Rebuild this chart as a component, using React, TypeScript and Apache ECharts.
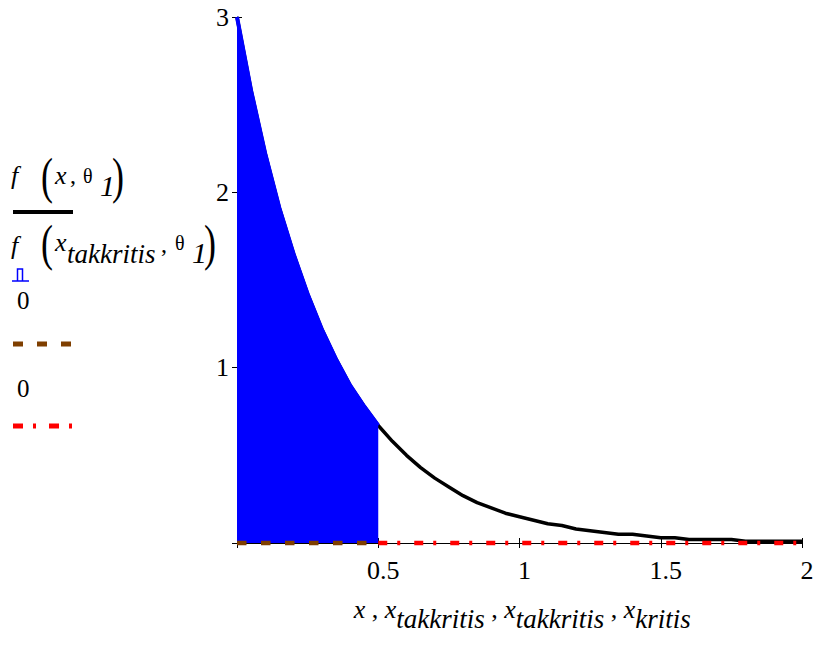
import React, { useEffect, useRef } from 'react';
import * as echarts from 'echarts';

// x values and f(x, θ1)
const xValues = [
  0, 0.05, 0.1, 0.15, 0.2, 0.25, 0.3, 0.35, 0.4, 0.45, 0.5,
  0.55, 0.6, 0.65, 0.7, 0.75, 0.8, 0.85, 0.9, 0.95, 1.0,
  1.05, 1.1, 1.15, 1.2, 1.25, 1.3, 1.35, 1.4, 1.45, 1.5,
  1.55, 1.6, 1.65, 1.7, 1.75, 1.8, 1.85, 1.9, 1.95, 2.0,
];
const fValues = [
  3.0, 2.58, 2.22, 1.91, 1.65, 1.42, 1.22, 1.05, 0.9, 0.78, 0.67,
  0.58, 0.5, 0.43, 0.37, 0.32, 0.27, 0.23, 0.2, 0.17, 0.15,
  0.13, 0.11, 0.1, 0.08, 0.07, 0.06, 0.05, 0.05, 0.04, 0.03,
  0.03, 0.02, 0.02, 0.02, 0.02, 0.01, 0.01, 0.01, 0.01, 0.01,
];
const xTakkritis = 0.5; // shaded region upper limit
const xStart = 0;
const xEnd = 2;
const zeroLevel = 0;
const xTickLabels = ['0.5', '1', '1.5', '2'];
const yTickLabels = ['1', '2', '3'];

const SERIF = 'Liberation Serif';

function txt(x: number, y: number, text: string, size: number, italic = false, extra: any = {}) {
  return {
    type: 'text',
    x,
    y,
    ...extra,
    style: {
      text,
      x: 0,
      y: 0,
      fontSize: size,
      fontFamily: SERIF,
      fontStyle: italic ? 'italic' : 'normal',
      fill: '#000',
      align: 'left',
      verticalAlign: 'middle',
    },
  };
}

export default function App() {
  const ref = useRef<HTMLDivElement>(null);
  useEffect(() => {
    const chart = echarts.init(ref.current!, null, { renderer: 'svg' });
    const curve = xValues.map((x, i) => [x, fValues[i]]);
    const shaded = curve.filter((p) => p[0] <= xTakkritis + 1e-9);

    const labelFmt = (list: string[]) => (v: number) => {
      const s = String(v);
      return list.indexOf(s) >= 0 ? s : '';
    };

    const commonX = { type: 'value', min: xStart, max: xEnd, interval: 0.5, splitLine: { show: false } };
    const commonY = { type: 'value', min: 0, max: 3, interval: 1, splitLine: { show: false } };

    const option: any = {
      animation: false,
      backgroundColor: '#fff',
      textStyle: { fontFamily: SERIF },
      grid: { left: 237, right: 16, top: 17, bottom: 102, containLabel: false },
      xAxis: [
        {
          ...commonX,
          axisLine: { show: true, onZero: false, lineStyle: { color: '#000', width: 1 } },
          axisTick: { show: true, inside: false, length: 5, lineStyle: { color: '#000', width: 1 } },
          axisLabel: {
            formatter: labelFmt(xTickLabels),
            fontSize: 26,
            fontFamily: SERIF,
            color: '#000',
            margin: 14,
            padding: [0, 0, 0, 10],
          },
        },
        {
          ...commonX,
          position: 'bottom',
          axisLine: { show: false, onZero: false },
          axisTick: { show: true, inside: true, length: 5, lineStyle: { color: '#000', width: 1 } },
          axisLabel: { show: false },
        },
      ],
      yAxis: [
        {
          ...commonY,
          axisLine: { show: true, onZero: false, lineStyle: { color: '#000', width: 1 } },
          axisTick: { show: true, inside: false, length: 5, lineStyle: { color: '#000', width: 1 } },
          axisLabel: {
            formatter: labelFmt(yTickLabels),
            fontSize: 26,
            fontFamily: SERIF,
            color: '#000',
            margin: 8,
          },
        },
        {
          ...commonY,
          position: 'left',
          axisLine: { show: false, onZero: false },
          axisTick: { show: true, inside: true, length: 5, lineStyle: { color: '#000', width: 1 } },
          axisLabel: { show: false },
        },
      ],
      series: [
        {
          type: 'line',
          data: curve,
          showSymbol: false,
          clip: false,
          z: 2,
          lineStyle: { color: '#000', width: 3.5 },
        },
        {
          type: 'line',
          data: shaded,
          showSymbol: false,
          clip: false,
          z: 3,
          lineStyle: { color: '#0000ff', width: 4 },
          areaStyle: { color: '#0000ff', opacity: 1 },
        },
        {
          type: 'line',
          data: [[xStart, zeroLevel], [xTakkritis, zeroLevel]],
          showSymbol: false,
          clip: false,
          z: 4,
          lineStyle: { color: '#7f3f00', width: 4.5, type: [9.5, 14.5], cap: 'butt' },
        },
        {
          type: 'line',
          data: [[xTakkritis, zeroLevel], [xEnd, zeroLevel]],
          showSymbol: false,
          clip: false,
          z: 4,
          lineStyle: { color: '#ff0000', width: 4.5, type: [9, 10, 3, 14], cap: 'butt' },
        },
      ],
      graphic: [
        // legend entry 1: f (x, θ1)
        txt(11, 175, 'f', 26, true),
        txt(41, 176, '(', 36, false, { scaleY: 1.4 }),
        txt(55, 175, 'x', 26, true),
        txt(70, 175, ',', 24),
        txt(83, 176, 'θ', 20),
        txt(100, 185, '1', 30, true),
        txt(112, 176, ')', 36, false, { scaleY: 1.4 }),
        {
          type: 'line',
          shape: { x1: 13, y1: 212, x2: 73, y2: 212 },
          style: { stroke: '#000', lineWidth: 4 },
        },
        // legend entry 2: f (x_takkritis, θ1)
        txt(11, 245, 'f', 26, true),
        txt(41, 243, '(', 36, false, { scaleY: 1.4 }),
        txt(55, 242, 'x', 26, true),
        txt(67, 254, 'takkritis', 27, true),
        txt(161, 244, ',', 24),
        txt(175, 243, 'θ', 20),
        txt(192, 252, '1', 30, true),
        txt(204, 243, ')', 36, false, { scaleY: 1.4 }),
        {
          type: 'polyline',
          shape: { points: [[12, 281], [29, 281]] },
          style: { stroke: '#0000ff', lineWidth: 1.5, fill: null },
        },
        {
          type: 'polyline',
          shape: { points: [[17.5, 281], [17.5, 269], [22.5, 269], [22.5, 281]] },
          style: { stroke: '#0000ff', lineWidth: 1.5, fill: null },
        },
        // legend entry 3: 0 (brown dashed)
        txt(17, 300, '0', 25),
        {
          type: 'line',
          shape: { x1: 13, y1: 344, x2: 73, y2: 344 },
          style: { stroke: '#7f3f00', lineWidth: 5, lineDash: [10, 14] },
        },
        // legend entry 4: 0 (red dash-dot)
        txt(17, 388, '0', 25),
        {
          type: 'line',
          shape: { x1: 13, y1: 426, x2: 73, y2: 426 },
          style: { stroke: '#ff0000', lineWidth: 5, lineDash: [10, 10, 3, 13] },
        },
        // x-axis title
        {
          type: 'text',
          x: 522,
          y: 614,
          style: {
            text: '{h| }{a|x}{c| , }{a|x}{b|takkritis}{c| , }{a|x}{b|takkritis}{c| , }{a|x}{b|kritis}',
            x: 0,
            y: 0,
            align: 'center',
            verticalAlign: 'middle',
            fill: '#000',
            fontFamily: SERIF,
            rich: {
              h: { fontSize: 2, lineHeight: 36, verticalAlign: 'middle', fontFamily: SERIF },
              a: { fontSize: 26, fontStyle: 'italic', lineHeight: 24, verticalAlign: 'top', fontFamily: SERIF, fill: '#000' },
              b: { fontSize: 27, fontStyle: 'italic', lineHeight: 24, verticalAlign: 'bottom', fontFamily: SERIF, fill: '#000' },
              c: { fontSize: 26, lineHeight: 24, verticalAlign: 'top', fontFamily: SERIF, fill: '#000' },
            },
          },
        },
      ],
    };
    chart.setOption(option);
    return () => chart.dispose();
  }, []);
  return (
    <div
      ref={ref}
      style={{ position: 'fixed', left: 0, top: 0, width: 818, height: 645, background: '#fff' }}
    />
  );
}
